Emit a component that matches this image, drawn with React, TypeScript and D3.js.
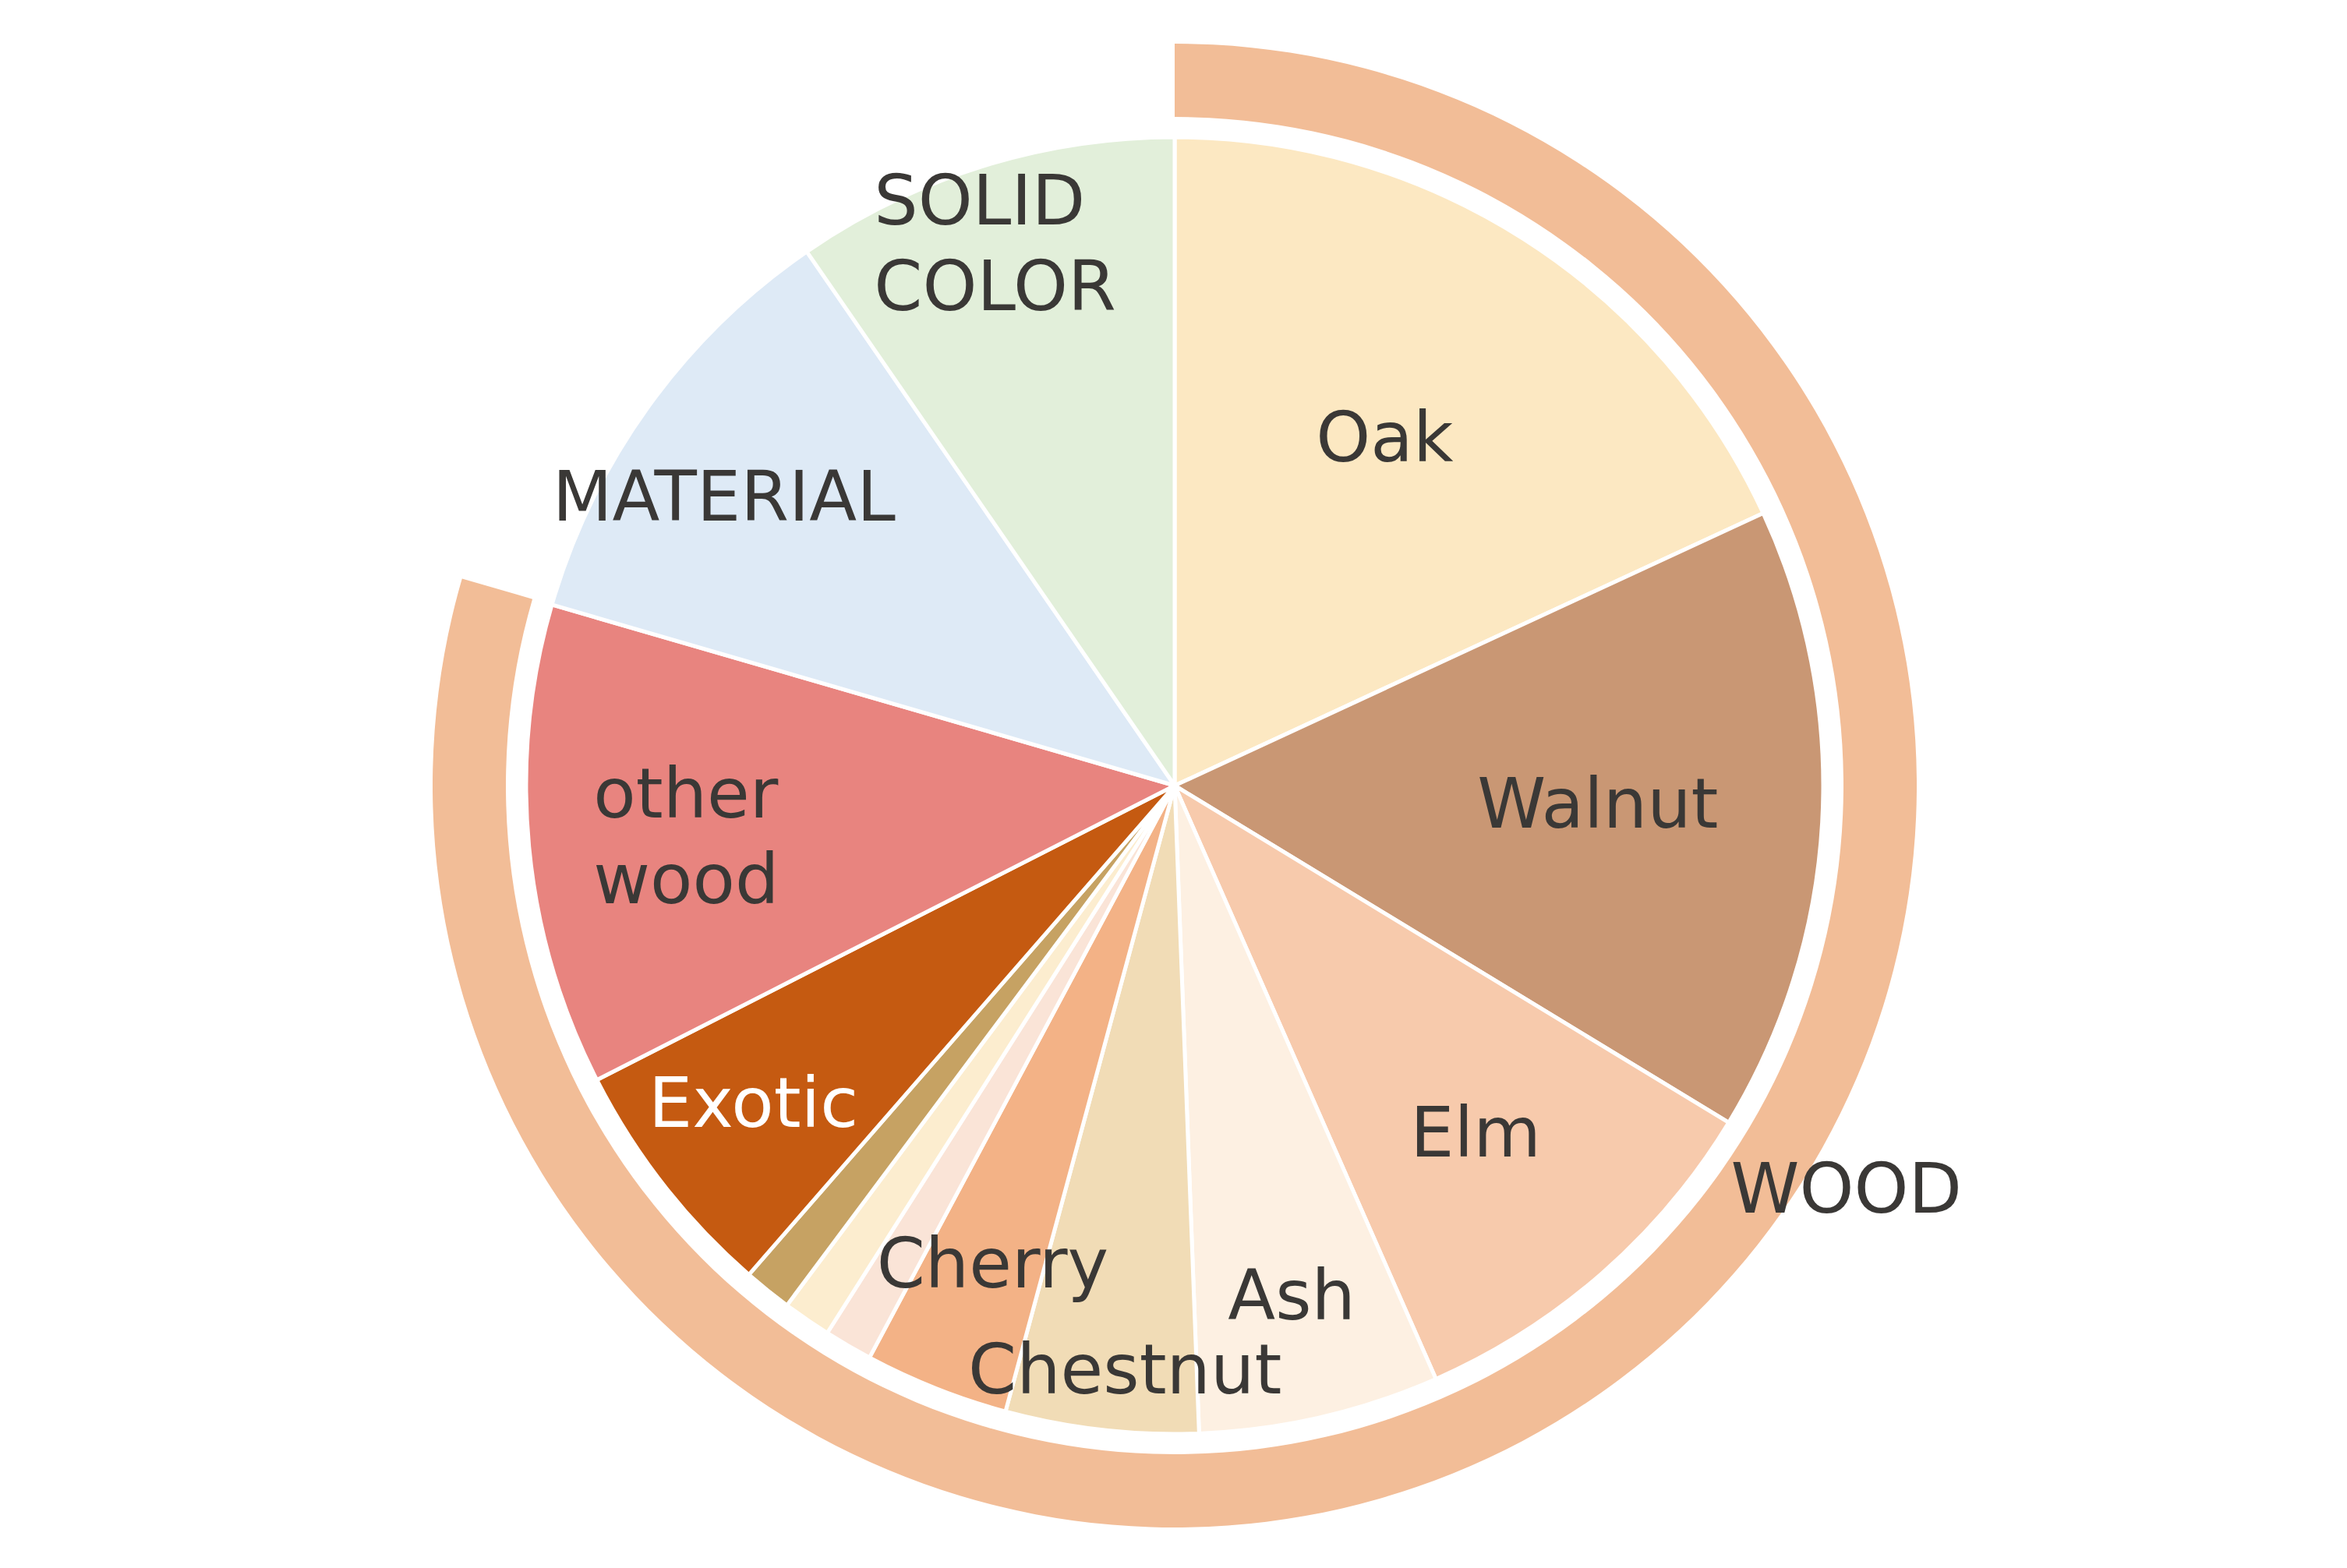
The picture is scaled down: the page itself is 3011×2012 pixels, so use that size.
import * as d3 from "d3";
import React, { useEffect, useRef } from "react";

// slices, clockwise from 12 o'clock
const categories = ["Oak", "Walnut", "Elm", "Ash", "Chestnut", "Cherry", "", "", "", "Exotic", "other\nwood", "MATERIAL", "SOLID\nCOLOR"];
const groups = ["WOOD", "WOOD", "WOOD", "WOOD", "WOOD", "WOOD", "WOOD", "WOOD", "WOOD", "WOOD", "WOOD", "MATERIAL", "SOLID COLOR"];
const shares = [18.1, 15.6, 9.7, 6.0, 4.8, 3.6, 1.2, 1.2, 1.2, 6.1, 12.0, 10.9, 9.6];
const sliceColors = ["#FCE8C2", "#C99774", "#F7CAAC", "#FDF0E2", "#F1DCB6", "#F3B286", "#FAE4D7", "#FCEDCF", "#C6A263", "#C55A11", "#E8847F", "#DEEAF6", "#E2EFDA"];
const ringGroups = ["WOOD"];
const ringColor = "#F2BD97";

// label placement: [radius as share of pie radius, angle shift in degrees]
const labelPlace = [[0.629, -1.6], [0.653, -1.0], [0.707, 0.2], [0.805, 0], [0.902, -1.6], [0.787, -0.7], [0, 0], [0, 0], [0, 0], [0.812, 1.1], [0.757, -0.4], [0.827, -3.0], [0.883, -1.0]];
const ringLabelPlace = [1.055, -22.2];

const W = 3011;
const H = 2012;
const cx = 1507;
const cy = 1008;
const pieR = 832;
const ringInner = 858;
const ringOuter = 952;
const fontSize = 89;
const capH = 65;
const lineH = 110;
const textColor = "#3A3836";

export default function App() {
  const svgRef = useRef<SVGSVGElement>(null);

  useEffect(() => {
    const svg = d3.select(svgRef.current);
    svg.selectAll("*").remove();
    const g = svg.append("g").attr("transform", `translate(${cx},${cy})`);

    const rows = categories.map((c, i) => ({ label: c, group: groups[i], value: shares[i], color: sliceColors[i], place: labelPlace[i] }));
    const pie = d3.pie<any>().sort(null).value((d) => d.value).startAngle(0).endAngle(2 * Math.PI);
    const arcs = pie(rows);
    const arc = d3.arc<any>().innerRadius(0).outerRadius(pieR);

    g.selectAll("path.slice")
      .data(arcs)
      .enter()
      .append("path")
      .attr("class", "slice")
      .attr("d", arc)
      .style("fill", (d) => d.data.color)
      .style("stroke", "#fff")
      .style("stroke-width", 5)
      .style("stroke-linejoin", "round");

    // outer ring for group totals
    const ringData = ringGroups.map((name) => {
      const parts = arcs.filter((a) => a.data.group === name);
      return { name, startAngle: d3.min(parts, (p) => p.startAngle)!, endAngle: d3.max(parts, (p) => p.endAngle)! };
    });
    const ringArc = d3.arc<any>().innerRadius(ringInner).outerRadius(ringOuter);
    g.selectAll("path.ring")
      .data(ringData)
      .enter()
      .append("path")
      .attr("class", "ring")
      .attr("d", ringArc)
      .style("fill", ringColor);

    const drawLabel = (text: string, angle: number, r: number, fill: string) => {
      const x = r * Math.sin(angle);
      const y = -r * Math.cos(angle);
      const lines = text.split("\n");
      const top = y - (capH + lineH * (lines.length - 1)) / 2;
      const t = g.append("text")
        .style("font-family", "'DejaVu Sans', sans-serif")
        .style("font-size", fontSize + "px")
        .style("fill", fill);
      const spans = lines.map((ln, k) => t.append("tspan").attr("y", top + capH + k * lineH).text(ln));
      const widths = spans.map((s) => (s.node() as SVGTSpanElement).getComputedTextLength());
      const maxW = d3.max(widths) || 0;
      if (lines.length === 1) {
        t.attr("text-anchor", "middle");
        spans[0].attr("x", x);
      } else {
        spans.forEach((s) => s.attr("x", x - maxW / 2));
      }
    };

    arcs.forEach((a) => {
      if (!a.data.label) return;
      const [rf, dA] = a.data.place;
      const mid = (a.startAngle + a.endAngle) / 2 + (dA * Math.PI) / 180;
      drawLabel(a.data.label, mid, rf * pieR, a.data.label === "Exotic" ? "#fff" : textColor);
    });

    ringData.forEach((rd) => {
      const mid = (rd.startAngle + rd.endAngle) / 2 + (ringLabelPlace[1] * Math.PI) / 180;
      drawLabel(rd.name, mid, ringLabelPlace[0] * ringOuter, textColor);
    });
  }, []);

  return (
    <svg
      ref={svgRef}
      width={W}
      height={H}
      style={{ position: "absolute", left: 0, top: 0, background: "#fff" }}
    />
  );
}
